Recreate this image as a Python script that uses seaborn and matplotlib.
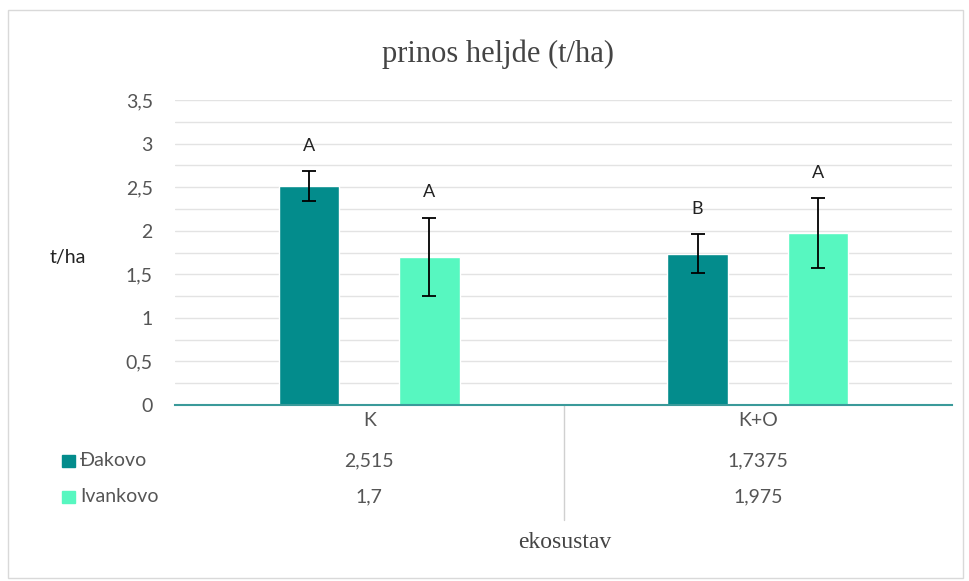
import seaborn as sns
import matplotlib.pyplot as plt
import matplotlib.patches as mpatches
from matplotlib.ticker import MultipleLocator, FuncFormatter
import pandas as pd

# data
categories = ["K", "K+O"]
locations = ["Đakovo", "Ivankovo"]
dakovo = [2.515, 1.7375]
ivankovo = [1.7, 1.975]
dakovo_err = [0.17, 0.22]
ivankovo_err = [0.45, 0.40]
dakovo_letters = ["A", "B"]
ivankovo_letters = ["A", "A"]
table_labels = [["2,515", "1,7375"], ["1,7", "1,975"]]
colors = ["#038C8C", "#57F7C0"]

df = pd.DataFrame({
    "ekosustav": categories * 2,
    "lokacija": [locations[0]] * 2 + [locations[1]] * 2,
    "prinos": dakovo + ivankovo,
})

sns.set_style("white")
plt.rcParams["font.family"] = ["Lato", "DejaVu Sans"]

W, H = 969, 581
fig = plt.figure(figsize=(9.69, 5.81), dpi=100)
ax = fig.add_axes([175 / W, (H - 405) / H, 777 / W, 305 / H])

sns.barplot(data=df, x="ekosustav", y="prinos", hue="lokacija",
            palette=colors, width=0.62, gap=0.5, ax=ax, legend=False,
            saturation=1, errorbar=None)

#error bars and significance letters
errs = [dakovo_err, ivankovo_err]
vals = [dakovo, ivankovo]
letters = [dakovo_letters, ivankovo_letters]
bar_conts = list(ax.containers)
for i, cont in enumerate(bar_conts):
    for j, bar in enumerate(cont):
        xc = bar.get_x() + bar.get_width() / 2
        ax.errorbar(xc, vals[i][j], yerr=errs[i][j], fmt="none",
                    ecolor="black", elinewidth=1.3, capsize=5, capthick=1.3)
        ax.text(xc, vals[i][j] + errs[i][j] + 0.29, letters[i][j],
                ha="center", va="center", fontsize=13, color="#222222")

ax.set_xlim(-0.5, 1.5)
ax.set_ylim(0, 3.5)
ax.yaxis.set_major_locator(MultipleLocator(0.5))
ax.yaxis.set_minor_locator(MultipleLocator(0.25))
ax.yaxis.set_major_formatter(FuncFormatter(lambda v, p: f"{v:g}".replace(".", ",")))
ax.grid(axis="y", which="both", color="#e3e3e3", linewidth=1)
ax.set_axisbelow(True)
for s in ["left", "right", "top"]:
    ax.spines[s].set_visible(False)
ax.spines["bottom"].set_color("#3a9a9a")
ax.spines["bottom"].set_linewidth(1.5)
ax.tick_params(axis="y", length=0, labelsize=14, labelcolor="#555555", pad=16)
ax.tick_params(axis="x", length=0, labelsize=14, labelcolor="#555555", pad=5)
ax.set_xlabel("")
ax.set_ylabel("t/ha", rotation=0, fontsize=14, color="#222222",
              ha="center", va="center")
ax.yaxis.set_label_coords(-(175 - 68) / 777, (405 - 257) / 305)

#data table under the axis
tr = ax.get_xaxis_transform()
row_px = [461, 497]
for r in range(2):
    ry = (405 - row_px[r]) / 305
    for c in range(2):
        ax.text(c, ry, table_labels[r][c], transform=tr, ha="center",
                va="center", fontsize=14, color="#555555")
    fig.patches.append(mpatches.Rectangle((62 / W, 1 - (row_px[r] + 6) / H),
                                          13 / W, 12 / H, transform=fig.transFigure,
                                          color=colors[r]))
    fig.text(80 / W, 1 - row_px[r] / H, locations[r], ha="left",
             va="center", fontsize=14, color="#555555")
ax.plot([0.5, 0.5], [0, -115 / 305], transform=tr, color="#d0d0d0",
        linewidth=1, clip_on=False)

fig.text(565 / W, 1 - 542 / H, "ekosustav", ha="center", va="center",
         fontsize=17, color="#444444", family="Liberation Serif")
fig.text(498 / W, 1 - 54 / H, "prinos heljde (t/ha)", ha="center",
         va="center", fontsize=22, color="#444444", family="Liberation Serif")

fig.patches.append(mpatches.Rectangle((8 / W, 3 / H), 955 / W, 568 / H,
                                      transform=fig.transFigure, fill=False,
                                      edgecolor="#d9d9d9", linewidth=1))

plt.savefig("out.png", dpi=100)
